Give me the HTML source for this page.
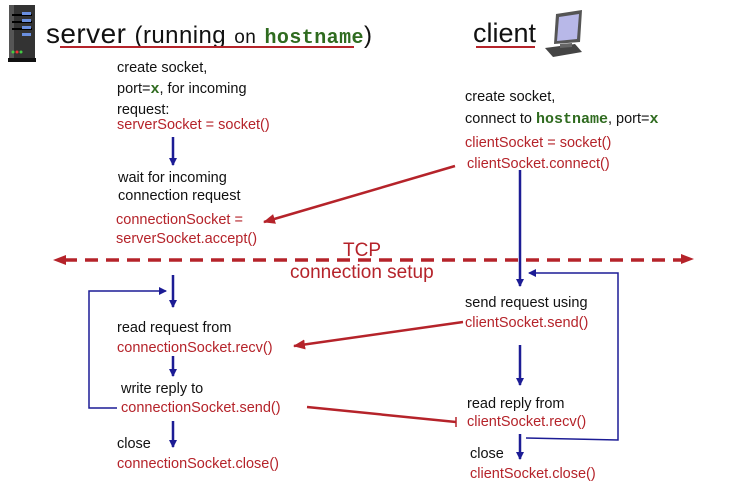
<!DOCTYPE html>
<html><head><meta charset="utf-8"><style>
html,body{margin:0;padding:0;background:#fff;}
svg{display:block;}
text{font-family:"Liberation Sans",Arial,sans-serif;font-size:14.5px;fill:#111;}
.r{fill:#b5232a;}
.m{font-family:"Liberation Mono",monospace;font-weight:bold;fill:#2f6b1f;}
</style></head><body>
<svg width="732" height="487" viewBox="0 0 732 487" xmlns="http://www.w3.org/2000/svg">
<defs>
<marker id="ab" markerWidth="8" markerHeight="8" refX="7" refY="4" orient="auto" markerUnits="userSpaceOnUse"><path d="M0,0 L8,4 L0,8 z" fill="#1c1c95"/></marker>
<marker id="ar" markerWidth="12" markerHeight="10" refX="11" refY="5" orient="auto" markerUnits="userSpaceOnUse"><path d="M0,0 L12,5 L0,10 z" fill="#b5232a"/></marker>
</defs>
<!-- server icon -->
<rect x="9" y="5" width="26" height="56" fill="#333"/>
<rect x="9" y="5" width="5" height="56" fill="#555"/>
<rect x="12" y="14" width="20" height="2" fill="#000"/>
<rect x="12" y="21" width="20" height="2" fill="#000"/>
<rect x="12" y="28" width="20" height="2" fill="#000"/>
<rect x="22" y="12" width="9" height="3" fill="#6a8fe0"/>
<rect x="22" y="19" width="9" height="3" fill="#6a8fe0"/>
<rect x="22" y="26" width="9" height="3" fill="#6a8fe0"/>
<rect x="22" y="33" width="9" height="3" fill="#6a8fe0"/>
<circle cx="13" cy="52" r="1.5" fill="#4c4"/><circle cx="17" cy="52" r="1.5" fill="#e33"/><circle cx="21" cy="52" r="1.5" fill="#4c4"/>
<rect x="8" y="58" width="28" height="4" fill="#111"/>
<!-- titles -->
<text x="46" y="43" style="font-size:28px" textLength="326" lengthAdjust="spacing">server <tspan style="font-size:24px">(running</tspan> <tspan style="font-size:19px">on</tspan> <tspan class="m" style="font-size:20px">hostname</tspan><tspan style="font-size:24px">)</tspan></text>
<line x1="60" y1="47" x2="354" y2="47" stroke="#b5232a" stroke-width="2"/>
<text x="473" y="42" style="font-size:27px">client</text>
<line x1="476" y1="47" x2="535" y2="47" stroke="#b5232a" stroke-width="2"/>
<!-- computer icon -->
<polygon points="556,14 582,10 580,42 554,44" fill="#555"/>
<polygon points="559,17 579,14 577,39 557,41" fill="#b8b8e8"/>
<polygon points="545,48 575,44 582,52 553,57" fill="#444"/>
<polygon points="560,44 572,43 572,47 560,48" fill="#666"/>
<!-- server text -->
<text x="117" y="72">create socket,</text>
<text x="117" y="93">port=<tspan class="m" style="font-size:15px">x</tspan>, for incoming</text>
<text x="117" y="114">request:</text>
<text x="117" y="129" class="r">serverSocket = socket()</text>
<line x1="173" y1="137" x2="173" y2="165" stroke="#1c1c95" stroke-width="2.5" marker-end="url(#ab)"/>
<text x="118" y="182">wait for incoming</text>
<text x="118" y="200">connection request</text>
<text x="116" y="224" class="r">connectionSocket =</text>
<text x="116" y="243" class="r">serverSocket.accept()</text>
<!-- client text -->
<text x="465" y="101">create socket,</text>
<text x="465" y="123">connect to <tspan class="m" style="font-size:15px">hostname</tspan>, port=<tspan class="m" style="font-size:15px">x</tspan></text>
<text x="465" y="147" class="r">clientSocket = socket()</text>
<text x="467" y="168" class="r">clientSocket.connect()</text>
<line x1="455" y1="166" x2="264" y2="222" stroke="#b5232a" stroke-width="2.5" marker-end="url(#ar)"/>
<line x1="520" y1="170" x2="520" y2="286" stroke="#1c1c95" stroke-width="2.5" marker-end="url(#ab)"/>
<!-- TCP -->
<line x1="64" y1="260" x2="684" y2="260" stroke="#b5232a" stroke-width="3.5" stroke-dasharray="13,8"/>
<path d="M53,260 L66,255 L66,265 z" fill="#b5232a"/>
<path d="M694,259 L681,254 L681,264 z" fill="#b5232a"/>
<text x="343" y="256" class="r" style="font-size:19px">TCP</text>
<text x="290" y="278" class="r" style="font-size:19px">connection setup</text>
<!-- server loop -->
<line x1="173" y1="275" x2="173" y2="307" stroke="#1c1c95" stroke-width="2.5" marker-end="url(#ab)"/>
<polyline points="117,408 89,408 89,291 166,291" fill="none" stroke="#1c1c95" stroke-width="1.5" marker-end="url(#ab)"/>
<text x="117" y="332">read request from</text>
<text x="117" y="352" class="r">connectionSocket.recv()</text>
<line x1="173" y1="356" x2="173" y2="376" stroke="#1c1c95" stroke-width="2.5" marker-end="url(#ab)"/>
<text x="121" y="393">write reply to</text>
<text x="121" y="412" class="r">connectionSocket.send()</text>
<line x1="173" y1="421" x2="173" y2="447" stroke="#1c1c95" stroke-width="2.5" marker-end="url(#ab)"/>
<text x="117" y="448">close</text>
<text x="117" y="468" class="r">connectionSocket.close()</text>
<!-- client loop -->
<text x="465" y="307">send request using</text>
<text x="465" y="327" class="r">clientSocket.send()</text>
<line x1="463" y1="322" x2="294" y2="346" stroke="#b5232a" stroke-width="2.5" marker-end="url(#ar)"/>
<line x1="520" y1="345" x2="520" y2="385" stroke="#1c1c95" stroke-width="2.5" marker-end="url(#ab)"/>
<text x="467" y="408">read reply from</text>
<text x="467" y="426" class="r">clientSocket.recv()</text>
<line x1="307" y1="407" x2="456" y2="422" stroke="#b5232a" stroke-width="2.5"/>
<line x1="456" y1="417" x2="456" y2="427" stroke="#b5232a" stroke-width="1.5"/>
<polyline points="526,438 618,440 618,273 529,273" fill="none" stroke="#1c1c95" stroke-width="1.5" marker-end="url(#ab)"/>
<line x1="520" y1="434" x2="520" y2="459" stroke="#1c1c95" stroke-width="2.5" marker-end="url(#ab)"/>
<text x="470" y="458">close</text>
<text x="470" y="478" class="r">clientSocket.close()</text>
</svg>
</body></html>
